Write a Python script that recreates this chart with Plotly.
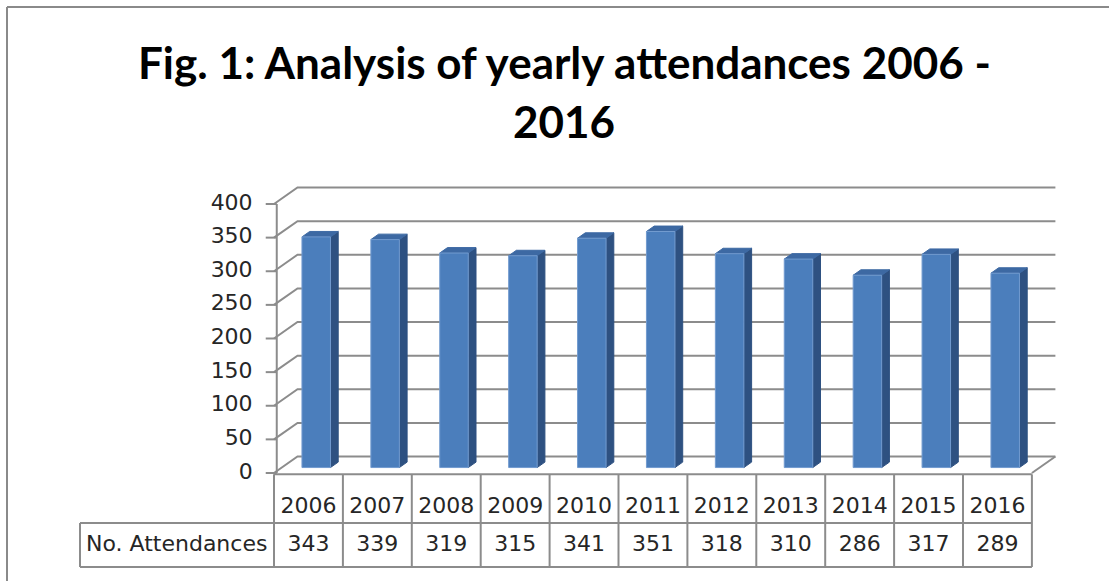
import plotly.graph_objects as go

# ---------------- data ----------------
years = ['2006', '2007', '2008', '2009', '2010', '2011', '2012', '2013', '2014', '2015', '2016']
attendances = [343, 339, 319, 315, 341, 351, 318, 310, 286, 317, 289]
y_ticks = [0, 50, 100, 150, 200, 250, 300, 350, 400]
row_label = 'No. Attendances'
title_lines = ['Fig. 1: Analysis of yearly attendances 2006 -', '2016']

# ---------------- layout constants (pixel mapping) ----------------
W, H = 1109, 581
X0_PX, COL_PX = 274.0, 68.9          # table left edge / column width
Y0_PX, K = 473.0, 0.6725             # value 0 pixel / px per unit
DEPTH_X = 23.5 / COL_PX              # oblique depth offset (x units)
DEPTH_Y = 16.5 / K                   # oblique depth offset (value units)
BAR_W = 28.5 / COL_PX
F0, DD = 0.33, 0.33                  # bar depth start / depth thickness fraction

n = len(years)
GRID = '#8c8c8c'
TXT = '#262626'
FONT_SM = dict(family='DejaVu Sans, Noto Sans, sans-serif', size=22, color=TXT)

fig = go.Figure()

# ---------------- walls / gridlines ----------------
gx, gy = [], []
for v in y_ticks:
    gx += [0, DEPTH_X, n + DEPTH_X, None]
    gy += [v, v + DEPTH_Y, v + DEPTH_Y, None]
# floor right edge
gx += [n, n + DEPTH_X, None]
gy += [0, DEPTH_Y, None]
# vertical axis + tick marks
gx += [0.04, 0.04, None]
gy += [0, y_ticks[-1], None]
for v in y_ticks:
    gx += [-0.12, 0.04, None]
    gy += [v, v, None]
fig.add_trace(go.Scatter(x=gx, y=gy, mode='lines', line=dict(color=GRID, width=2),
                         hoverinfo='skip', showlegend=False))

# tick labels
fig.add_trace(go.Scatter(x=[-0.31] * len(y_ticks), y=y_ticks, mode='text',
                         text=[str(v) for v in y_ticks], textposition='middle left',
                         textfont=FONT_SM, hoverinfo='skip', showlegend=False))

# ---------------- bars (pseudo 3D) ----------------
fx, fy, sx, sy, tx, ty = [], [], [], [], [], []
for i, v in enumerate(attendances):
    cx = i + 0.5 + F0 * DEPTH_X
    xl, xr = cx - BAR_W / 2, cx + BAR_W / 2
    b = F0 * DEPTH_Y
    t = v + F0 * DEPTH_Y
    ox, oy = DD * DEPTH_X, DD * DEPTH_Y
    fx += [xl, xr, xr, xl, xl, None]
    fy += [b, b, t, t, b, None]
    sx += [xr, xr + ox, xr + ox, xr, xr, None]
    sy += [b, b + oy, t + oy, t, b, None]
    tx += [xl, xr, xr + ox, xl + ox, xl, None]
    ty += [t, t, t + oy, t + oy, t, None]

fig.add_trace(go.Scatter(x=sx, y=sy, mode='lines', fill='toself', fillcolor='#2e5181',
                         line=dict(color='#2e5181', width=1), hoverinfo='skip', showlegend=False))
fig.add_trace(go.Scatter(x=tx, y=ty, mode='lines', fill='toself', fillcolor='#3d69a3',
                         line=dict(color='#3d69a3', width=1), hoverinfo='skip', showlegend=False))
fig.add_trace(go.Scatter(x=fx, y=fy, mode='lines', fill='toself', fillcolor='#4b7ebc',
                         line=dict(color='#729bcf', width=1), hoverinfo='skip', showlegend=False))

# ---------------- data table ----------------
HDR_TOP = -2
HDR_BOT = (Y0_PX - 523) / K
VAL_BOT = (Y0_PX - 567) / K
LBL_LEFT = (80 - X0_PX) / COL_PX
tbx, tby = [], []
tbx += [0, n, None, LBL_LEFT, n, None, LBL_LEFT, n, None]
tby += [HDR_TOP, HDR_TOP, None, HDR_BOT, HDR_BOT, None, VAL_BOT, VAL_BOT, None]
for i in range(n + 1):
    tbx += [i, i, None]
    tby += [HDR_TOP, VAL_BOT, None]
tbx += [LBL_LEFT, LBL_LEFT, None]
tby += [HDR_BOT, VAL_BOT, None]
fig.add_trace(go.Scatter(x=tbx, y=tby, mode='lines', line=dict(color=GRID, width=2),
                         hoverinfo='skip', showlegend=False))

centers = [i + 0.5 for i in range(n)]
fig.add_trace(go.Scatter(x=centers, y=[(Y0_PX - 507) / K] * n, mode='text', text=years,
                         textposition='middle center', textfont=FONT_SM,
                         hoverinfo='skip', showlegend=False))
fig.add_trace(go.Scatter(x=centers, y=[(Y0_PX - 545) / K] * n, mode='text',
                         text=[str(v) for v in attendances], textposition='middle center',
                         textfont=FONT_SM, hoverinfo='skip', showlegend=False))
fig.add_trace(go.Scatter(x=[(86 - X0_PX) / COL_PX], y=[(Y0_PX - 545) / K], mode='text',
                         text=[row_label], textposition='middle right', textfont=FONT_SM,
                         hoverinfo='skip', showlegend=False))

# ---------------- title & frame ----------------
TITLE_FONT = dict(family='Lato, Open Sans, sans-serif', size=44, color='#000000', weight='bold')
for line, ypx in zip(title_lines, [62, 121]):
    fig.add_annotation(text=line, xref='paper', yref='paper', x=564 / W, y=1 - ypx / H,
                       xanchor='center', yanchor='middle', showarrow=False, font=TITLE_FONT)
fig.add_shape(type='line', xref='paper', yref='paper', x0=7 / W, x1=1, y0=1 - 7 / H, y1=1 - 7 / H,
              line=dict(color='#8a8a8a', width=2))
fig.add_shape(type='line', xref='paper', yref='paper', x0=7 / W, x1=7 / W, y0=0, y1=1 - 7 / H,
              line=dict(color='#8a8a8a', width=2))

fig.update_layout(
    width=W, height=H, margin=dict(l=0, r=0, t=0, b=0),
    paper_bgcolor='white', plot_bgcolor='white',
    xaxis=dict(range=[-X0_PX / COL_PX, (W - X0_PX) / COL_PX], visible=False, fixedrange=True),
    yaxis=dict(range=[(Y0_PX - H) / K, Y0_PX / K], visible=False, fixedrange=True),
    showlegend=False,
)

fig.write_html('out.html', config={'displayModeBar': False},
               post_script="document.body.style.margin='0';document.body.style.overflow='hidden';")
